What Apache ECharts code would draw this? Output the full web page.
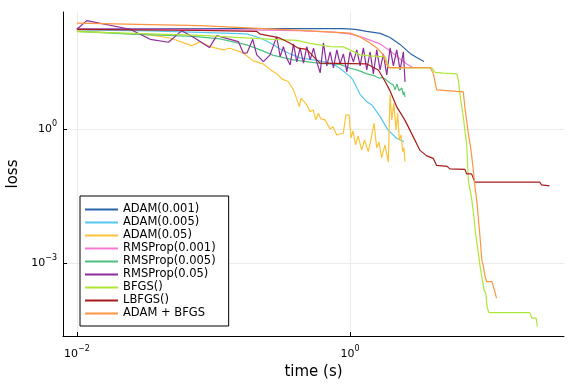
<!DOCTYPE html>
<html><head><meta charset="utf-8">
<script src="https://cdn.jsdelivr.net/npm/echarts@6/dist/echarts.min.js"></script>
<style>html,body{margin:0;padding:0;background:#fff}#c{width:576px;height:384px}</style>
</head><body><div id="c"></div>
<script>
// [time (s), loss]
const seriesNames = ['ADAM(0.001)','ADAM(0.005)','ADAM(0.05)','RMSProp(0.001)','RMSProp(0.005)','RMSProp(0.05)','BFGS()','LBFGS()','ADAM + BFGS'];
const seriesColors = ['#2b63a8','#56c8f0','#fcc33a','#f57ad3','#4fbf7f','#8e2c9e','#aee63a','#a51c1c','#ff9440'];

const adam001 = [[0.01,174],[0.05,173.5],[0.19,173],[0.5,172.8],[0.89,172.5],[1.09,166],[1.32,150],[1.66,135.5],[1.96,110],[2.32,77],[2.75,48.4],[3.07,39.4],[3.47,32.1]];

const adam005 = [[0.01,162],[0.0344,154],[0.08,143],[0.175,132],[0.22,107],[0.26,83],[0.3076,61],[0.364,47.2],[0.43,38.4],[0.60,33],[0.75,28.2],[0.843,22.6],[1.0,14.7],[1.05,12.4],[1.18,6.0],[1.32,4.07],[1.44,3.43],[1.66,1.88],[1.89,0.95],[2.19,0.62],[2.48,0.52]];

const adam05 = [[0.01,154],[0.0208,136],[0.0344,125],[0.0481,107],[0.0693,72.3],[0.0798,87.5],[0.0944,68.7],[0.1175,58],[0.132,63.2],[0.165,49.7],[0.195,33],[0.231,28.2],[0.269,19.7],[0.292,16.9],[0.318,12.9],[0.352,11.4],[0.385,7.42],[0.409,4.44],[0.425,3.15],[0.4375,4.84],[0.482,3.43],[0.509,2.43],[0.536,2.65],[0.562,1.59],[0.585,2.24],[0.612,1.67],[0.655,1.59],[0.713,1.0],[0.75,1.11],[0.798,0.735],[0.843,0.77],[0.891,0.80],[0.933,2.05],[0.982,2.05],[1.016,0.63],[1.05,0.90],[1.096,0.44],[1.143,0.70],[1.216,0.34],[1.274,0.568],[1.358,0.311],[1.42,0.568],[1.496,1.34],[1.566,0.377],[1.627,0.51],[1.70,0.225],[1.80,0.44],[1.905,0.183],[1.96,5.74],[2.02,1.59],[2.09,3.75],[2.17,0.95],[2.23,2.24],[2.29,0.568],[2.36,0.735],[2.43,0.311],[2.48,0.377],[2.52,0.186]];

const rms001 = [[0.01,171],[0.08,166],[0.43,156],[0.751,144],[1.0,132],[1.25,109],[1.658,78.9],[1.962,55.1],[2.322,36.5],[2.6,28.2],[2.87,23.6]];

const rms005 = [[0.01,150],[0.0232,132],[0.0713,116],[0.1117,102],[0.175,75],[0.22,58],[0.275,43.7],[0.385,34.7],[0.6034,29],[0.845,27.5],[1.0,22.6],[1.1,21],[1.2,19.2],[1.324,16.9],[1.5,15.5],[1.58,14.2],[1.658,13.5],[1.72,14.2],[1.803,13.0],[1.962,10.5],[2.07,9.6],[2.134,7.42],[2.2,10.1],[2.28,7.05],[2.39,8.2],[2.45,5.74],[2.48,6.7],[2.525,5.18]];

const rms05 = [[0.01,168],[0.0118,261],[0.0245,168],[0.0344,100],[0.0468,86],[0.0586,156],[0.0733,106],[0.0933,65.3],[0.1057,121],[0.152,88.9],[0.1655,49],[0.176,49.7],[0.1937,100],[0.2073,44.9],[0.2317,31.8],[0.2594,44.9],[0.29,115],[0.3076,41.1],[0.325,68.7],[0.344,37.9],[0.364,26.8],[0.385,78.9],[0.407,31.3],[0.4306,63.3],[0.456,29.3],[0.482,68.7],[0.51,34.7],[0.54,63.3],[0.57,31.3],[0.6034,17.8],[0.638,83],[0.675,25.5],[0.714,52.4],[0.755,23],[0.799,58],[0.845,28.2],[0.893,47.2],[0.946,18.7],[1.0,52.4],[1.057,31.3],[1.119,58],[1.184,25.5],[1.251,64.3],[1.324,20.7],[1.40,52.4],[1.48,16.9],[1.567,58],[1.658,20.7],[1.752,47.2],[1.855,16],[1.962,64.3],[2.074,25.5],[2.194,58],[2.322,20.7],[2.455,52.4],[2.525,11.2]];

const bfgs = [[0.01,148.6],[0.0344,132],[0.08,122],[0.275,100],[0.407,94.5],[0.51,81],[0.714,68.7],[0.893,67.7],[1.057,53.1],[1.184,44.9],[1.40,42.6],[1.803,40.5],[1.908,25.5],[1.962,23],[3.96,23],[4.19,18.2],[4.82,17.5],[6.04,16.9],[6.2,12.4],[6.38,5.74],[6.75,1.76],[7.14,0.44],[7.34,0.069],[7.56,0.0435],[7.78,0.026],[8.0,0.0131],[8.23,0.00557],[8.55,0.00236],[8.95,0.000844],[9.21,0.000505],[9.56,0.000255],[9.84,0.000215],[10.1,0.0001],[10.4,7.9e-5],[20.7,7.9e-5],[21.4,5.95e-5],[23.0,5.95e-5],[23.5,3.87e-5]];

const lbfgs = [[0.01,166],[0.08,158],[0.2073,150],[0.22,130],[0.275,115],[0.3076,106],[0.364,81.8],[0.4186,63.3],[0.482,59.5],[0.539,41.1],[0.6034,29.3],[1.324,28.2],[1.44,24.6],[1.61,20.7],[1.803,11.4],[1.962,7.05],[2.19,3.15],[2.525,1.55],[2.9,0.663],[3.25,0.331],[3.64,0.2495],[4.06,0.22],[4.30,0.153],[5.13,0.1455],[5.38,0.128],[6.93,0.1248],[7.13,0.099],[7.75,0.099],[8.2,0.0646],[24.5,0.0646],[25.2,0.0562],[28.8,0.0534]];

const adamBfgs = [[0.01,229],[0.08,202],[0.43,158],[1.0,137],[1.184,113],[1.40,83],[1.567,64.3],[1.753,44.9],[1.834,29.3],[1.908,23.4],[3.85,23.4],[4.06,17.5],[4.30,7.42],[4.42,6.7],[6.74,6.7],[6.93,2.94],[7.33,0.814],[7.67,0.34],[7.98,0.1216],[8.22,0.0482],[8.45,0.026],[8.54,0.01844],[8.84,0.00557],[9.05,0.00236],[9.21,0.00119],[9.46,0.000844],[9.73,0.000505],[10.0,0.000391],[10.9,0.000391],[11.2,0.000302],[11.8,0.000166]];

const seriesData = [adam001, adam005, adam05, rms001, rms005, rms05, bfgs, lbfgs, adamBfgs];
const xTicks = [0.01, 1];
const yTicks = [0.001, 1];

function supLabel(v) {
  const e = Math.round(Math.log10(v));
  return '{b|10}{s|' + (e < 0 ? '\u2212' + (-e) : String(e)) + '}';
}
const labelRich = {
  b: {fontSize: 11, lineHeight: 18, color: '#000', fontFamily: 'DejaVu Sans'},
  s: {fontSize: 8, lineHeight: 4, verticalAlign: 'top', color: '#000', fontFamily: 'DejaVu Sans'}
};

const chart = echarts.init(document.getElementById('c'), null, {renderer: 'canvas'});
chart.setOption({
  animation: false,
  backgroundColor: '#fff',
  textStyle: {fontFamily: 'DejaVu Sans'},
  grid: {left: 63, right: 12, top: 12, bottom: 48, containLabel: false, outerBoundsMode: 'none'},
  xAxis: {
    type: 'log', min: 0.00791, max: 36.8,
    name: 'time (s)', nameLocation: 'middle', nameGap: 27,
    nameTextStyle: {fontSize: 15, color: '#000', fontFamily: 'DejaVu Sans'},
    axisLine: {show: true, onZero: false, lineStyle: {color: '#000', width: 1}},
    axisTick: {show: true, inside: true, length: 4, customValues: xTicks, lineStyle: {color: '#000'}},
    axisLabel: {customValues: xTicks, formatter: supLabel, margin: 9, rich: labelRich},
    splitLine: {show: true, lineStyle: {color: '#ebebeb', width: 1}},
    minorTick: {show: false}, minorSplitLine: {show: false}
  },
  yAxis: {
    type: 'log', min: 2.38e-5, max: 407,
    name: 'loss', nameLocation: 'middle', nameGap: 42,
    nameTextStyle: {fontSize: 15, color: '#000', fontFamily: 'DejaVu Sans'},
    axisLine: {show: true, lineStyle: {color: '#000', width: 1}},
    axisTick: {show: true, inside: true, length: 4, customValues: yTicks, lineStyle: {color: '#000'}},
    axisLabel: {customValues: yTicks, formatter: supLabel, margin: 6, rich: labelRich},
    splitLine: {show: true, lineStyle: {color: '#ebebeb', width: 1}},
    minorTick: {show: false}, minorSplitLine: {show: false}
  },
  legend: {
    orient: 'vertical', left: 80, top: 196,
    icon: 'rect', itemWidth: 33, itemHeight: 2, itemGap: 0,
    padding: [7, 13, 6, 5],
    borderColor: '#000', borderWidth: 1, borderRadius: 0, backgroundColor: '#fff',
    textStyle: {fontSize: 11.5, color: '#000', lineHeight: 13, fontFamily: 'DejaVu Sans'},
    data: seriesNames
  },
  series: seriesData.map((d, i) => ({
    name: seriesNames[i], type: 'line', data: d,
    symbol: 'none', showSymbol: false,
    lineStyle: {color: seriesColors[i], width: 1.2},
    itemStyle: {color: seriesColors[i]},
    emphasis: {disabled: true}
  }))
});
</script></body></html>
